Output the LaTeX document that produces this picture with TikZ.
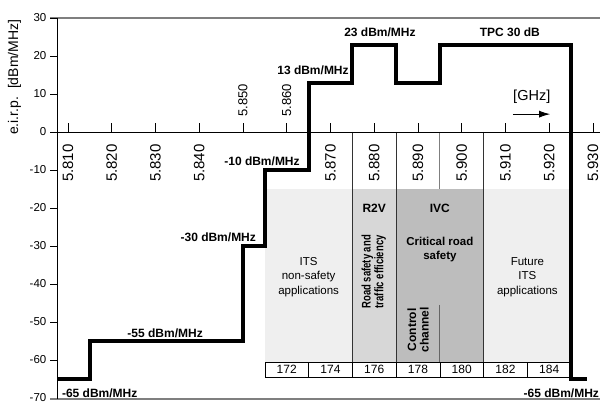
\documentclass[tikz,border=0pt]{standalone}
\usepackage{fontspec}
\setmainfont{Liberation Sans}
\usetikzlibrary{arrows.meta}
\definecolor{cLight}{HTML}{EFEFEF}
\definecolor{cRtv}{HTML}{D7D7D7}
\definecolor{cIvc}{HTML}{BDBDBD}
\definecolor{cFrame}{HTML}{7F7F7F}
\definecolor{cDiv}{HTML}{333333}
\begin{document}
\begin{tikzpicture}[x=4.375pt,y=3.8pt,
  lbl/.style={font=\fontsize{12}{14}\selectfont\bfseries, inner sep=0pt},
  txt/.style={font=\fontsize{11.5}{14.5}\selectfont, inner sep=0pt, align=center},
  btxt/.style={font=\fontsize{11.5}{14}\selectfont\bfseries, inner sep=0pt, align=center},
  freqlbl/.style={rotate=90, font=\fontsize{15}{15}\selectfont, inner sep=0pt},
  freqsm/.style={rotate=90, font=\fontsize{13}{13}\selectfont, inner sep=0pt},
  ylbl/.style={anchor=east, font=\fontsize{11.5}{12}\selectfont, inner sep=0pt},
  frameline/.style={draw=cFrame, line width=1.6pt},
  divider/.style={draw=cDiv, line width=0.9pt},
  mask/.style={draw=black, line width=4pt, line join=miter},
  chbox/.style={draw=black, line width=0.7pt, fill=white}]
\useasboundingbox (-15.543,-72.105) rectangle (121.6,34.737);

% section fills
\fill[cLight] (45,-15) rectangle (65,-60.53);
\fill[cRtv] (65,-15) rectangle (75,-60.53);
\fill[cIvc] (75,-15) rectangle (95,-60.53);
\fill[cLight] (95,-15) rectangle (115,-60.53);

% dividers
\draw[divider] (65,0) -- (65,-60.53);
\draw[divider] (75,0) -- (75,-60.53);
\draw[divider] (95,0) -- (95,-60.53);
\draw[divider, draw=cFrame] (85,0) -- (85,-15);
\draw[divider, draw=cFrame!80!black] (85,-45.5) -- (85,-60.53);

% frame lines
\draw[frameline] (-4.11,30) -- (121.6,30);
\draw[frameline] (-4.11,-70.3) -- (121.6,-70.3);
\draw[line width=0.8pt] (-4.11,0) -- (121.6,0);
\draw[line width=0.8pt] (-2.514,30) -- (-2.514,-70.3);

% ticks
\foreach \f in {0,10,...,120} \draw[line width=0.8pt] (\f,0) -- (\f,2.4);
\foreach \d in {30,20,...,-60} \draw[line width=0.8pt] (-4.11,\d) -- (-2.514,\d);

% y tick labels
\foreach \d in {30,20,...,-70} \node[ylbl] (y\d) at (-4.9,\d) {\d};
\node[rotate=90, font=\fontsize{14}{14}\selectfont, inner sep=0pt] (ylab) at (-12.2,14.4) {e.i.r.p.\ \ [dBm/MHz]};

% frequency labels
\foreach \f/\t in {0/5.810,10/5.820,20/5.830,30/5.840,60/5.870,70/5.880,80/5.890,90/5.900,100/5.910,110/5.920,120/5.930}
  \node[freqlbl] (f\f) at (\f,-8.2) {\t};
\node[freqsm] (f40) at (40,8.4) {5.850};
\node[freqsm] (f50) at (50,8.4) {5.860};

% channel row
\foreach \i/\c in {0/172,1/174,2/176,3/178,4/180,5/182,6/184}
  \draw[chbox] ({45+10*\i},-60.53) rectangle ({55+10*\i},-64.47)
    node[midway, font=\fontsize{12}{12}\selectfont, inner sep=0pt] (ch\c) {\c};

% section texts
\node[txt] (its) at (55,-38.2) {ITS\\non-safety\\applications};
\node[btxt, font=\fontsize{12}{14}\selectfont\bfseries] (r2v) at (70,-20) {R2V};
\node[btxt, rotate=90] (road) at (70,-36.8) {\scalebox{0.76}[1]{\fontsize{12.5}{12}\selectfont\bfseries\begin{tabular}{@{}c@{}}Road safety and\\traffic efficiency\end{tabular}}};
\node[btxt, font=\fontsize{12}{14}\selectfont\bfseries] (ivc) at (85,-20) {IVC};
\node[btxt] (crit) at (85,-31) {Critical road\\safety};
\node[btxt, rotate=90, font=\fontsize{12}{12.5}\selectfont\bfseries] (ctrl) at (80,-52.1) {Control\\channel};
\node[txt] (fut) at (105,-38.2) {Future\\ITS\\applications};

% mask
\draw[mask] (-2.514,-65) -- (5,-65) -- (5,-55) -- (40,-55) -- (40,-30) -- (45,-30) -- (45,-10) -- (55,-10) -- (55,13) -- (65,13) -- (65,23) -- (75,23) -- (75,13) -- (85,13) -- (85,23) -- (115,23) -- (115,-65) -- (118.6,-65);

% mask labels
\node[lbl, anchor=west] (m65a) at (-1.4,-68.7) {-65 dBm/MHz};
\node[lbl] (m55) at (22.2,-52.9) {-55 dBm/MHz};
\node[lbl, anchor=east] (m30) at (43,-27.6) {-30 dBm/MHz};
\node[lbl, anchor=east] (m10) at (53,-7.6) {-10 dBm/MHz};
\node[lbl, anchor=east] (m13) at (64.2,16.3) {13 dBm/MHz};
\node[lbl] (m23) at (71.3,26.3) {23 dBm/MHz};
\node[lbl] (tpc) at (101,26.3) {TPC 30 dB};
\node[lbl, anchor=east] (m65b) at (121.4,-68.7) {-65 dBm/MHz};

% GHz arrow
\node[font=\fontsize{14.5}{15}\selectfont, inner sep=0pt] (ghz) at (106,9.2) {[GHz]};
\coordinate (arA) at (101.7,4.7);
\coordinate (arB) at (110.2,4.7);
\draw[line width=0.9pt, -{Latex[length=11pt,width=7pt]}] (arA) -- (arB);
\end{tikzpicture}
\end{document}
